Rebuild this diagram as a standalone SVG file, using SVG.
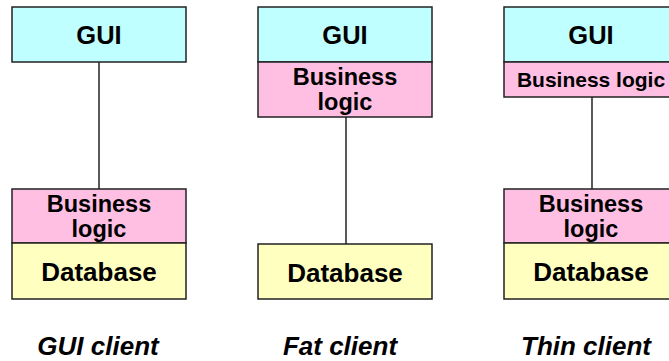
<svg xmlns="http://www.w3.org/2000/svg" width="669" height="361" viewBox="0 0 669 361">
<style>
rect{stroke:#222;stroke-width:1.5}
.gui{fill:#C0FFFF}
.bl{fill:#FFBFE3}
.db{fill:#FFFFC0}
text{font-family:"Liberation Sans",Arial,sans-serif;font-weight:bold;text-anchor:middle;fill:#000}
.g{font-size:25.5px}
.b{font-size:23.5px}
.d{font-size:26px}
.cap{font-style:italic;font-size:26px}
.conn line{stroke:#000;stroke-width:1.3}
</style>
<rect width="669" height="361" fill="#fff" style="stroke:none"/>
<g class="conn">
<line x1="99" y1="62" x2="99" y2="189"/>
<line x1="346" y1="117" x2="346" y2="244"/>
<line x1="592" y1="97" x2="592" y2="189"/>
</g>
<g id="c1-gui"><rect class="gui" x="12" y="7" width="174" height="55"/><text class="g" x="99" y="44">GUI</text></g>
<g id="c1-bl"><rect class="bl" x="12" y="189" width="174" height="54"/><text class="b" x="99" y="212">Business</text><text class="b" x="99" y="237">logic</text></g>
<g id="c1-db"><rect class="db" x="12" y="243" width="174" height="56"/><text class="d" x="99" y="281">Database</text></g>
<g id="c2-gui"><rect class="gui" x="258" y="7" width="174" height="55"/><text class="g" x="345" y="44">GUI</text></g>
<g id="c2-bl"><rect class="bl" x="258" y="62" width="174" height="55"/><text class="b" x="345" y="85">Business</text><text class="b" x="345" y="110">logic</text></g>
<g id="c2-db"><rect class="db" x="258" y="244" width="174" height="55"/><text class="d" x="345" y="282">Database</text></g>
<g id="c3-gui"><rect class="gui" x="504" y="7" width="175" height="55"/><text class="g" x="591" y="44">GUI</text></g>
<g id="c3-bl1"><rect class="bl" x="504" y="62" width="175" height="35"/><text x="591" y="87" font-size="21">Business logic</text></g>
<g id="c3-bl2"><rect class="bl" x="504" y="189" width="175" height="54"/><text class="b" x="591" y="212">Business</text><text class="b" x="591" y="237">logic</text></g>
<g id="c3-db"><rect class="db" x="504" y="243" width="175" height="56"/><text class="d" x="591" y="281">Database</text></g>
<text class="cap" x="98" y="355">GUI client</text>
<text class="cap" x="340" y="355">Fat client</text>
<text class="cap" x="586" y="355">Thin client</text>
</svg>
